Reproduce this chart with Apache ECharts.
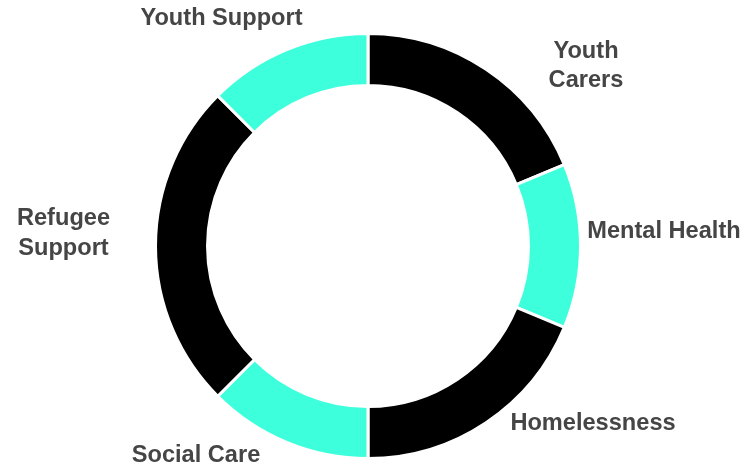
<!DOCTYPE html>
<html>
<head>
<meta charset="utf-8">
<script src="https://cdn.jsdelivr.net/npm/echarts@6/dist/echarts.min.js"></script>
<style>
html,body{margin:0;padding:0;background:#fff;}
#chart{width:746px;height:466px;}
</style>
</head>
<body>
<div id="chart"></div>
<script>
// ---- data ----
const categories = ['Youth\nCarers', 'Mental Health', 'Homelessness', 'Social Care', 'Refugee\nSupport', 'Youth Support'];
const values = [3, 2, 3, 2, 4, 2];
const colors = ['#000000', '#3effdb', '#000000', '#3effdb', '#000000', '#3effdb'];

// ---- label placement (offsets of label centre from pie centre, px) ----
const pieCenter = [368, 246];
const labelOffsets = [[218, -180], [296, -15], [225, 177.5], [-172, 209.5], [-304.5, -12.5], [-146.5, -227.5]];

const chart = echarts.init(document.getElementById('chart'));
chart.setOption({
  animation: false,
  backgroundColor: '#ffffff',
  series: [{
    type: 'pie',
    center: pieCenter,
    radius: [160.5, 212.5],
    startAngle: 90,
    clockwise: true,
    avoidLabelOverlap: false,
    itemStyle: { borderColor: '#ffffff', borderWidth: 3 },
    label: {
      show: true,
      position: 'outside',
      color: '#454545',
      fontFamily: "'Liberation Sans', Arial, sans-serif",
      fontWeight: 'bold',
      fontSize: 23.6,
      lineHeight: 29.5,
      align: 'center'
    },
    labelLine: { show: false },
    labelLayout: function (p) {
      const o = labelOffsets[p.dataIndex];
      return { x: pieCenter[0] + o[0], y: pieCenter[1] + o[1], align: 'center', verticalAlign: 'middle' };
    },
    emphasis: { disabled: true },
    data: categories.map((c, i) => ({ name: c, value: values[i], itemStyle: { color: colors[i] } }))
  }]
});
</script>
</body>
</html>
